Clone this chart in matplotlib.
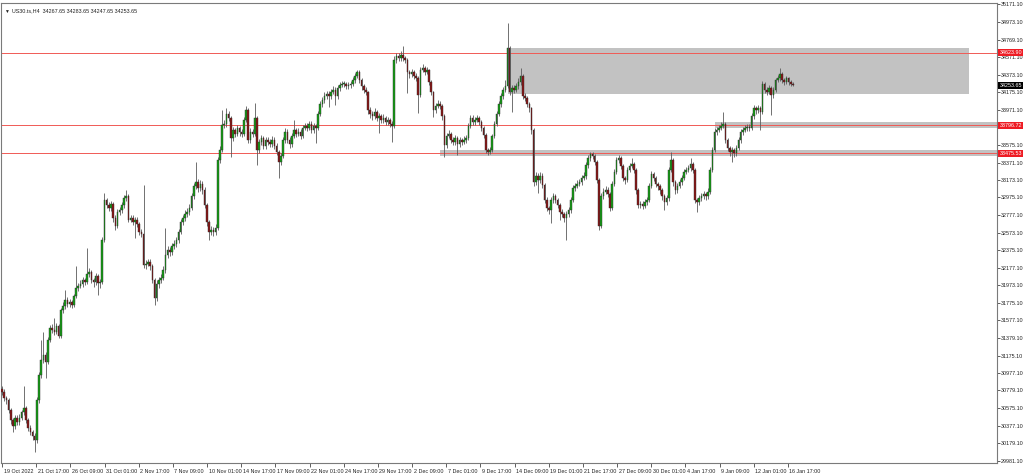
import numpy as np
import matplotlib.pyplot as plt
import matplotlib.transforms as mtransforms
from matplotlib.patches import Rectangle

plt.rcParams['font.family'] = ['Liberation Sans', 'DejaVu Sans']

# -------------------------------
# DATA  (US30 H4)
# -------------------------------

symbol = "US30.ts,H4"
last_ohlc = [34267.65, 34283.65, 34247.65, 34253.65]
first_open = 30790

closes = [
    30761, 30693, 30670, 30556, 30442, 30374, 30465, 30419, 30465, 30533,
    30579, 30442, 30351, 30306, 30260, 30215, 30670, 30955, 31125, 31182,
    31102, 31353, 31489, 31467, 31444, 31512, 31398, 31694, 31740, 31808,
    31762, 31785, 31751, 31853, 31945, 31968, 31990, 32036, 32013, 32104,
    32127, 32036, 32013, 32081, 32002, 32013, 32491, 32946, 32889, 32855,
    32900, 32741, 32650, 32809, 32832, 32889, 32969, 32992, 32718, 32741,
    32696, 32718, 32673, 32582, 32559, 32206, 32217, 32240, 32195, 32036,
    31831, 31990, 32036, 32058, 32149, 32320, 32377, 32354, 32422, 32445,
    32491, 32582, 32696, 32741, 32787, 32809, 32855, 32992, 33105, 33151,
    33083, 33128, 33060, 32889, 32696, 32582, 32605, 32582, 32627, 33401,
    33515, 33799, 33811, 33925, 33879, 33652, 33743, 33697, 33765, 33720,
    33697, 33856, 33970, 33629, 33720, 33697, 33879, 33515, 33606, 33652,
    33561, 33629, 33606, 33583, 33629, 33561, 33492, 33379, 33447, 33629,
    33720, 33629, 33583, 33674, 33743, 33697, 33720, 33674, 33765, 33788,
    33765, 33811, 33743, 33788, 33765, 33925, 34038, 34084, 34130, 34153,
    34130, 34175, 34198, 34130, 34221, 34255, 34266, 34266, 34244, 34255,
    34266, 34312, 34357, 34403, 34312, 34244, 34198, 34175, 33970, 33925,
    33902, 33947, 33879, 33902, 33856, 33879, 33834, 33856, 33811, 33788,
    34539, 34585, 34562, 34596, 34562, 34539, 34403, 34380, 34403, 34357,
    34334, 34141, 34425, 34448, 34403, 34425, 34289, 34175, 33970, 34016,
    34038, 34016, 33902, 33572, 33674, 33697, 33629, 33606, 33652, 33583,
    33629, 33606, 33629, 33652, 33788, 33879, 33834, 33856, 33879, 33834,
    33765, 33686, 33515, 33492, 33515, 33674, 33811, 33925, 34038, 34130,
    34198, 34244, 34676, 34175, 34221, 34198, 34244, 34289, 34357, 34130,
    34107, 34038, 33993, 33743, 33151, 33219, 33174, 33219, 33117, 32946,
    32855, 32832, 32946, 32992, 32946, 32889, 32809, 32787, 32741, 32787,
    32832, 32946, 33083, 33105, 33128, 33151, 33196, 33219, 33344, 33424,
    33469, 33447, 33379, 33174, 32650, 32992, 33037, 33060, 33014, 32855,
    33128, 33265, 33401, 33424, 33333, 33196, 33174, 33287, 33333, 33356,
    33287, 33060, 32889, 32901, 32878, 32923, 32946, 33105, 33242, 33196,
    33128, 33105, 33060, 32992, 32923, 32969, 33287, 33401, 33151, 33060,
    33105, 33151, 33196, 33265, 33287, 33310, 33356, 33287, 32946, 32923,
    32969, 32992, 33014, 32992, 33037, 33287, 33515, 33720, 33743, 33765,
    33788, 33811, 33629, 33538, 33492, 33515, 33481, 33538, 33629, 33720,
    33743, 33765, 33777, 33765, 33902, 33993, 33970, 33993, 33947, 34266,
    34198, 34175, 34221, 34141, 34198, 34312, 34334, 34380, 34312, 34289,
    34334, 34289, 34268, 34254,
]

highs = [
    30830, 30790, 30720, 30690, 30580, 30470, 30500, 30500, 30510, 30560,
    30830, 30600, 30470, 30380, 30330, 30290, 30700, 30990, 31353, 31444,
    31220, 31390, 31520, 31530, 31603, 31550, 31540, 31720, 31780, 31922,
    31840, 31820, 31810, 31880, 32195, 32000, 32030, 32070, 32060, 32400,
    32170, 32150, 32060, 32110, 32100, 32050, 32520, 33026, 32970, 32920,
    32940, 32920, 32770, 32840, 32870, 32920, 33000, 33060, 33010, 32780,
    32770, 32750, 32750, 32700, 32620, 33117, 32260, 32280, 32270, 32220,
    32060, 32030, 32070, 32100, 32190, 32627, 32420, 32410, 32460, 32490,
    32530, 32620, 32730, 32780, 32830, 32850, 32900, 33030, 33140, 33378,
    33190, 33170, 33160, 33090, 32910, 32720, 32650, 32640, 32670, 33440,
    33560, 33970, 33860, 33993, 33960, 33900, 33780, 33770, 33800, 33790,
    33750, 33890, 34016, 33990, 33760, 33750, 34050, 33900, 33640, 33690,
    33680, 33660, 33660, 33640, 33670, 33660, 33590, 33520, 33480, 33660,
    33760, 33750, 33660, 33710, 33856, 33770, 33760, 33750, 33800, 33820,
    33820, 33850, 33840, 33820, 33810, 33960, 34070, 34120, 34170, 34190,
    34190, 34210, 34240, 34230, 34250, 34290, 34300, 34300, 34290, 34290,
    34300, 34350, 34390, 34425, 34420, 34330, 34270, 34230, 34190, 34000,
    33960, 33990, 33970, 33940, 33930, 33920, 33900, 33890, 33880, 33840,
    34580, 34620, 34620, 34640, 34699, 34590, 34560, 34430, 34440, 34430,
    34390, 34360, 34460, 34494, 34470, 34460, 34440, 34310, 34190, 34050,
    34080, 34070, 34040, 33920, 33710, 33740, 33720, 33660, 33690, 33680,
    33660, 33650, 33670, 33690, 33820, 33910, 33913, 33890, 33910, 33900,
    33860, 33790, 33710, 33540, 33550, 33700, 33840, 33960, 34070, 34160,
    34230, 34312, 34960, 34700, 34260, 34250, 34280, 34330, 34448, 34380,
    34160, 34130, 34060, 34010, 33770, 33260, 33250, 33260, 33250, 33140,
    32980, 32880, 32980, 33030, 33020, 32970, 32910, 32840, 32810, 32820,
    32870, 32980, 33120, 33140, 33170, 33190, 33230, 33260, 33380, 33460,
    33492, 33490, 33470, 33400, 33200, 33030, 33080, 33100, 33090, 33040,
    33160, 33300, 33440, 33458, 33450, 33360, 33220, 33320, 33370, 33424,
    33380, 33310, 33080, 32940, 32930, 32960, 32980, 33140, 33280, 33270,
    33220, 33150, 33130, 33080, 33010, 33000, 33320, 33492, 33420, 33170,
    33140, 33190, 33230, 33300, 33320, 33350, 33424, 33380, 33310, 32970,
    33000, 33030, 33050, 33040, 33080, 33320, 33550, 33760, 33780, 33800,
    33830, 33947, 33830, 33650, 33560, 33550, 33540, 33570, 33660, 33750,
    33780, 33800, 33810, 33810, 33940, 34030, 34020, 34030, 34020, 34300,
    34290, 34230, 34260, 34240, 34230, 34340, 34370, 34448, 34400, 34340,
    34360, 34350, 34310, 34284,
]

lows = [
    30730, 30660, 30630, 30520, 30400, 30306, 30340, 30380, 30390, 30440,
    30500, 30410, 30320, 30270, 30220, 30078, 30180, 30640, 30920, 31090,
    30920, 31080, 31330, 31430, 31410, 31420, 31370, 31380, 31660, 31710,
    31730, 31730, 31720, 31730, 31830, 31910, 31940, 31960, 31980, 31990,
    32070, 32000, 31960, 31980, 31865, 31950, 31990, 32470, 32850, 32820,
    32820, 32700, 32610, 32630, 32780, 32800, 32860, 32940, 32690, 32690,
    32660, 32514, 32640, 32550, 32520, 32170, 32160, 32190, 32150, 32000,
    31751, 31800, 31950, 32000, 32030, 32120, 32290, 32310, 32320, 32390,
    32410, 32460, 32560, 32660, 32710, 32750, 32780, 32830, 32960, 33070,
    33040, 33050, 33020, 32850, 32650, 32491, 32550, 32540, 32550, 32600,
    33370, 33490, 33760, 33780, 33840, 33435, 33620, 33660, 33670, 33680,
    33660, 33670, 33830, 33590, 33600, 33660, 33670, 33344, 33480, 33570,
    33530, 33530, 33570, 33550, 33550, 33530, 33460, 33196, 33340, 33420,
    33600, 33590, 33540, 33550, 33650, 33660, 33670, 33640, 33650, 33740,
    33730, 33740, 33710, 33710, 33595, 33740, 33900, 34010, 34050, 34100,
    34004, 34100, 34150, 34027, 34100, 34190, 34230, 34230, 34210, 34210,
    34220, 34240, 34280, 34330, 34280, 34200, 34160, 34140, 33930, 33880,
    33860, 33870, 33840, 33708, 33820, 33820, 33800, 33800, 33780, 33606,
    33760, 34510, 34530, 34530, 34530, 34500, 34164, 34340, 34350, 34320,
    34300, 33936, 34120, 34400, 34370, 34380, 34250, 34140, 33890, 33940,
    33990, 33980, 33860, 33435, 33540, 33650, 33590, 33570, 33570, 33458,
    33550, 33570, 33580, 33600, 33630, 33760, 33800, 33800, 33830, 33800,
    33730, 33650, 33480, 33460, 33470, 33490, 33650, 33790, 33900, 34010,
    34100, 34170, 34220, 34140, 33947, 34160, 34170, 34210, 34260, 34100,
    34070, 34000, 33950, 33700, 33100, 33120, 33026, 33140, 33080, 32910,
    32820, 32790, 32684, 32910, 32910, 32850, 32718, 32750, 32700, 32491,
    32750, 32800, 32920, 33050, 33080, 33100, 33120, 33170, 33190, 33310,
    33390, 33410, 33340, 33140, 32605, 32630, 32960, 33010, 32980, 32820,
    32830, 33100, 33240, 33370, 33300, 33160, 33130, 33150, 33260, 33310,
    33250, 33020, 32850, 32860, 32840, 32850, 32890, 32920, 33080, 33160,
    33090, 33060, 33020, 32950, 32832, 32890, 32940, 33260, 33110, 33020,
    33030, 33080, 33120, 33170, 33240, 33260, 33280, 33250, 32910, 32810,
    32890, 32940, 32960, 32950, 32960, 33010, 33260, 33490, 33690, 33720,
    33740, 33760, 33590, 33500, 33450, 33378, 33440, 33450, 33510, 33600,
    33690, 33720, 33730, 33730, 33740, 33870, 33930, 33940, 33743, 33920,
    34160, 34140, 34150, 33913, 34110, 34170, 34290, 34300, 34280, 34260,
    34270, 34260, 34240, 34248,
]

date_labels = [
    "19 Oct 2022", "21 Oct 17:00", "26 Oct 09:00", "31 Oct 01:00",
    "2 Nov 17:00", "7 Nov 09:00", "10 Nov 01:00", "14 Nov 17:00",
    "17 Nov 09:00", "22 Nov 01:00", "24 Nov 17:00", "29 Nov 17:00",
    "2 Dec 09:00", "7 Dec 01:00", "9 Dec 17:00", "14 Dec 09:00",
    "19 Dec 01:00", "21 Dec 17:00", "27 Dec 09:00", "30 Dec 01:00",
    "4 Jan 17:00", "9 Jan 09:00", "12 Jan 01:00", "16 Jan 17:00",
]

price_ticks = [
    35171.10, 34973.10, 34769.10, 34571.10, 34373.10, 34175.10, 33971.10,
    33773.10, 33575.10, 33371.10, 33173.10, 32975.10, 32777.10, 32573.10,
    32375.10, 32177.10, 31973.10, 31775.10, 31577.10, 31379.10, 31175.10,
    30977.10, 30779.10, 30575.10, 30377.10, 30179.10, 29981.10,
]

# horizontal levels drawn on the chart
level_prices = [34623.90, 33796.72, 33475.53]

# gray zones: first bar, last bar (None = to the right edge), top, bottom
zone_start = [232, 201, 327]
zone_end = [444, None, None]
zone_top = [34676, 33515, 33834]
zone_bottom = [34153, 33447, 33766]

# -------------------------------
# LAYOUT
# -------------------------------

W, H = 1024, 475
PX_PER_BAR = 2.179
FS = 3.9
UP = "#14a014"
DOWN = "#8b1414"
LEVEL = "#f05a55"
ZONE = "#c2c2c2"

opens = [first_open] + closes[:-1]
n = len(closes)
x = np.arange(n)

fig = plt.figure(figsize=(W / 100, H / 100), dpi=100)
ax = fig.add_axes([1 / W, 12 / H, 996 / W, 460 / H])

x0 = -0.46
x1 = x0 + 996 / PX_PER_BAR
ax.set_xlim(x0, x1)
ax.set_ylim(29953, 35188)

# zones
for s, e, t, b in zip(zone_start, zone_end, zone_top, zone_bottom):
    end = x1 + 5 if e is None else e
    ax.add_patch(Rectangle((s, b), end - s, t - b, facecolor=ZONE,
                           edgecolor="none", zorder=1))

# level lines
for p in level_prices:
    ax.axhline(p, color=LEVEL, lw=0.7, zorder=2)

# candles
o = np.array(opens, dtype=float)
c = np.array(closes, dtype=float)
hi = np.array(highs, dtype=float)
lo = np.array(lows, dtype=float)
up = c >= o
ax.vlines(x, lo, hi, color="#5a5a5a", lw=0.6, zorder=3)
body_bottom = np.minimum(o, c)
body_h = np.maximum(np.abs(c - o), 8)
ax.bar(x, body_h, bottom=body_bottom, width=0.72,
       color=np.where(up, UP, DOWN), edgecolor="#2e2e2e",
       linewidth=0.3, zorder=4)

# axes styling
for sp in ax.spines.values():
    sp.set_color("#7a7a7a")
    sp.set_linewidth(0.8)

ax.yaxis.tick_right()
ax.set_yticks(price_ticks)
ax.set_yticklabels([f"{v:.2f}" for v in price_ticks])
ax.tick_params(axis="y", direction="out", length=2, width=0.6,
               colors="#444444", labelsize=FS, pad=1, labelcolor="#222222")

tick_step = 15.68
ax.set_xticks(np.arange(len(date_labels)) * tick_step)
ax.set_xticklabels(date_labels, ha="left")
ax.tick_params(axis="x", direction="out", length=3, width=0.6,
               colors="#444444", labelsize=FS, pad=1.5, labelcolor="#222222")
shift = mtransforms.ScaledTranslation(1.5 / 100, 0, fig.dpi_scale_trans)
for lab in ax.get_xticklabels():
    lab.set_transform(lab.get_transform() + shift)

# price labels on the right scale
ytrans = ax.get_yaxis_transform()
for p in level_prices:
    ax.text(1.0025, p, f"{p:.2f}", transform=ytrans, ha="left", va="center",
            fontsize=FS, color="white", zorder=10, clip_on=False,
            bbox=dict(boxstyle="square,pad=0.2", fc="#ee1c24", ec="none"))
ax.text(1.0025, last_ohlc[3], f"{last_ohlc[3]:.2f}", transform=ytrans,
        ha="left", va="center", fontsize=FS, color="white", zorder=10,
        clip_on=False,
        bbox=dict(boxstyle="square,pad=0.2", fc="black", ec="none"))

# header
ax.text(0.003, 0.987, "\u25bc", transform=ax.transAxes, ha="left", va="top",
        fontsize=3.5, color="#222222")
header = symbol + "  " + " ".join(f"{v:.2f}" for v in last_ohlc)
ax.text(0.011, 0.988, header, transform=ax.transAxes, ha="left", va="top",
        fontsize=FS, color="#222222")

fig.savefig("out.png", dpi=100)
